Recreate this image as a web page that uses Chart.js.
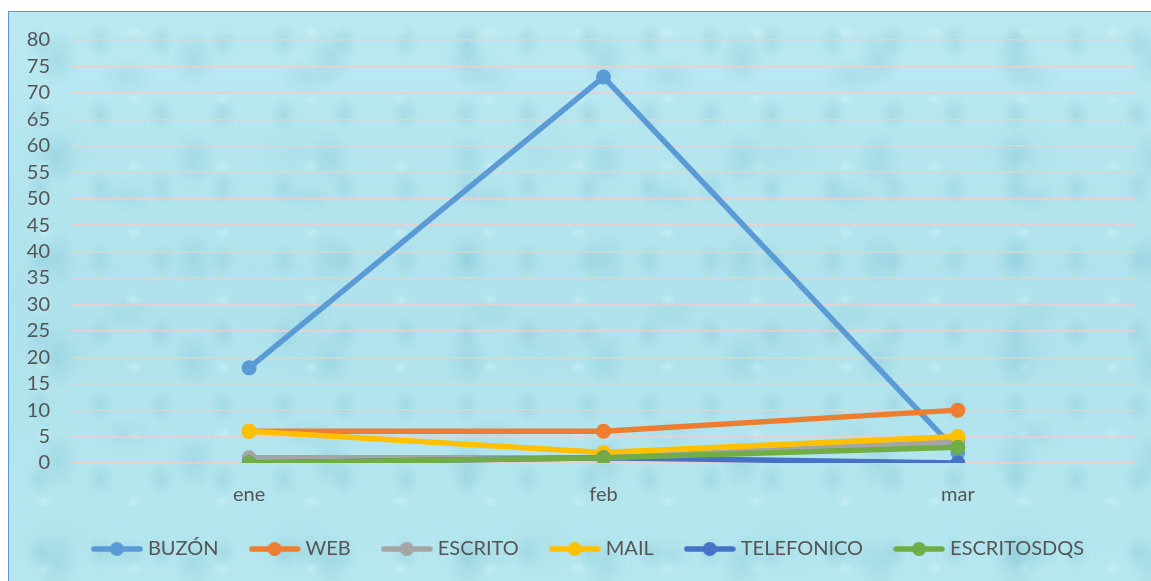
<!DOCTYPE html>
<html>
<head>
<meta charset="utf-8">
<script src="https://cdn.jsdelivr.net/npm/chart.js@4.4.1/dist/chart.umd.min.js"></script>
<style>
  html, body { margin:0; padding:0; background:#fff; }
  #wrap {
    position:absolute; left:8px; top:11px; width:1143px; height:570px;
    border-left:1.5px solid #5b9bd5; border-top:1.5px solid #5b9bd5;
    background-color:#b3e5ee;
    background-image:
      radial-gradient(ellipse 30px 40px at 35% 45%, rgba(130,198,213,0.35), rgba(130,198,213,0) 75%),
      radial-gradient(ellipse 40px 24px at 65% 55%, rgba(140,204,218,0.3), rgba(140,204,218,0) 75%),
      radial-gradient(ellipse 18px 24px at 50% 40%, rgba(118,190,207,0.28), rgba(118,190,207,0) 75%),
      radial-gradient(ellipse 12px 9px at 40% 30%, rgba(214,246,251,0.45), rgba(214,246,251,0) 75%),
      radial-gradient(ellipse 60px 45px at 20% 70%, rgba(150,210,222,0.25), rgba(150,210,222,0) 75%),
      linear-gradient(180deg, #bae9f1 0%, #afe2ec 50%, #b6e7ef 100%);
    background-size: 137px 101px, 181px 119px, 61px 73px, 89px 67px, 241px 197px, 100% 100%;
  }
  canvas { display:block; }
</style>
</head>
<body>
<div id="wrap"><canvas id="chart" width="1142" height="569"></canvas></div>
<script>
const months = ['ene', 'feb', 'mar'];
const seriesNames = ['BUZÓN', 'WEB', 'ESCRITO', 'MAIL', 'TELEFONICO', 'ESCRITOSDQS'];
const buzon = [18, 73, 2];
const web = [6, 6, 10];
const escrito = [1, 1, 4];
const mail = [6, 2, 5];
const telefonico = [0, 1, 0];
const escritosdqs = [0, 1, 3];
const colors = ['#5b9bd5', '#ed7d31', '#a5a5a5', '#ffc000', '#4472c4', '#70ad47'];
const values = [buzon, web, escrito, mail, telefonico, escritosdqs];

const font = "Lato, 'Open Sans', sans-serif";
const textColor = '#555555';

// little line+dot picture used as legend marker
function legendIcon(color){
  const c = document.createElement('canvas');
  c.width = 52; c.height = 16;
  const g = c.getContext('2d');
  g.strokeStyle = color; g.lineWidth = 5.5; g.lineCap = 'round';
  g.beginPath(); g.moveTo(3, 8); g.lineTo(49, 8); g.stroke();
  g.fillStyle = color;
  g.beginPath(); g.arc(26, 8, 7, 0, Math.PI * 2); g.fill();
  return c;
}
const icons = colors.map(legendIcon);

const datasets = seriesNames.map((name, i) => ({
  label: name,
  data: values[i],
  borderColor: colors[i],
  backgroundColor: colors[i],
  pointBackgroundColor: colors[i],
  pointBorderColor: colors[i],
  borderWidth: 5.5,
  pointRadius: 6.5,
  pointBorderWidth: 2,
  tension: 0,
  order: seriesNames.length - i
}));

// nudge the legend a bit to the right, like the original
const legendShift = {
  id: 'legendShift',
  afterLayout(chart){
    if(chart.legend){ chart.legend.left += 9; chart.legend.right += 9; }
  }
};

new Chart(document.getElementById('chart'), {
  type: 'line',
  data: { labels: months, datasets: datasets },
  plugins: [legendShift],
  options: {
    responsive: false,
    animation: false,
    layout: { padding: { left: 18, right: 16, top: 28, bottom: 12 } },
    scales: {
      x: {
        offset: true,
        grid: { display: false, drawTicks: false },
        border: { display: false },
        ticks: { color: textColor, font: { family: font, size: 20 }, padding: 20 },
        afterFit: s => { s.height = 41; }
      },
      y: {
        min: 0, max: 80,
        grid: { color: 'rgba(232,208,206,0.95)', lineWidth: 1.5, drawTicks: false },
        border: { display: false },
        ticks: { stepSize: 5, autoSkip: false, color: textColor, font: { family: font, size: 20 }, padding: 22 },
        afterFit: s => { s.width = 45; s.paddingTop = 0; s.paddingBottom = 0; }
      }
    },
    plugins: {
      tooltip: { enabled: false },
      legend: {
        position: 'bottom',
        labels: {
          usePointStyle: true,
          pointStyleWidth: 42,
          padding: 35,
          color: textColor,
          font: { family: font, size: 20 },
          sort: (a, b) => a.datasetIndex - b.datasetIndex,
          generateLabels: chart => Chart.defaults.plugins.legend.labels.generateLabels(chart)
            .map(item => Object.assign(item, { pointStyle: icons[item.datasetIndex] }))
        }
      }
    }
  }
});
</script>
</body>
</html>
